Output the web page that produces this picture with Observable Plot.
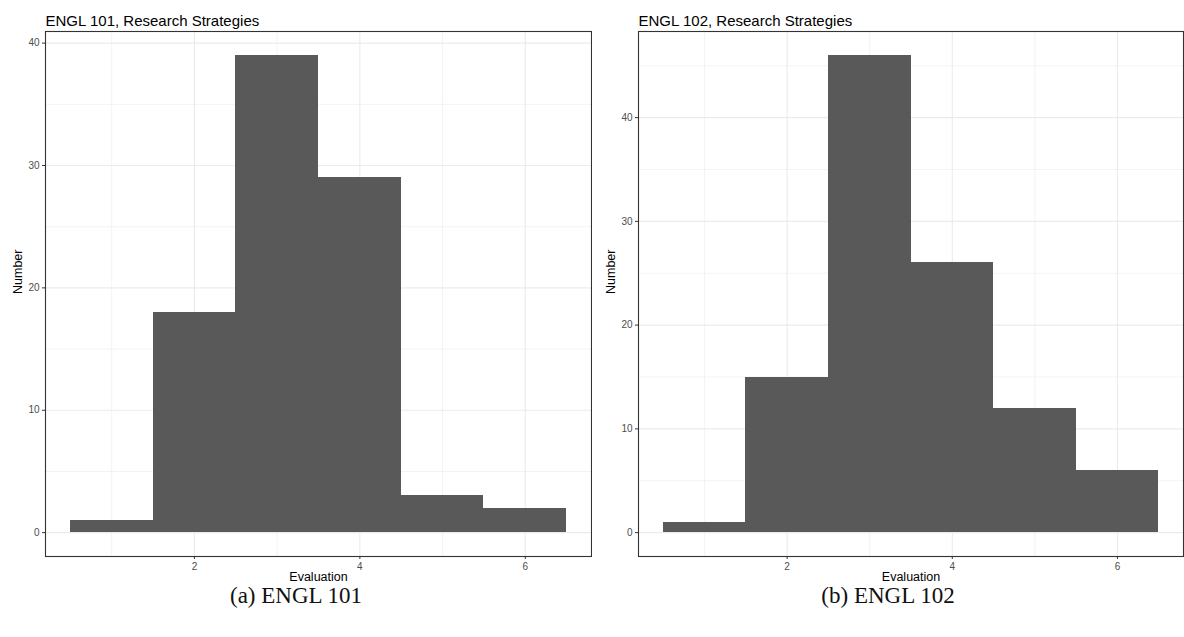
<!DOCTYPE html>
<html>
<head>
<meta charset="utf-8">
<script src="https://cdn.jsdelivr.net/npm/d3@7"></script>
<script src="https://cdn.jsdelivr.net/npm/@observablehq/plot@0.6"></script>
<style>
  html, body { margin: 0; padding: 0; background: #fff; }
  #wrap { position: relative; width: 1184px; height: 637px; overflow: hidden; }
  .panel { position: absolute; top: 0; }
  .cap { position: absolute; top: 583px; width: 592px; text-align: center;
         font-family: "Liberation Serif", "DejaVu Serif", serif; font-size: 23px; color: #111; }
</style>
</head>
<body>
<div id="wrap"></div>
<script>
// ---- data ----
const evaluations = [1, 2, 3, 4, 5, 6];
const counts101 = [1, 18, 39, 29, 3, 2];
const counts102 = [1, 15, 46, 26, 12, 6];
const titles = ["ENGL 101, Research Strategies", "ENGL 102, Research Strategies"];
const captions = ["(a) ENGL 101", "(b) ENGL 102"];
const xMajor = [2, 4, 6];
const xMinor = [1, 3, 5];
const yMajor = [0, 10, 20, 30, 40];
const yMinor = [5, 15, 25, 35, 45];
const xLabel = "Evaluation";
const yLabel = "Number";

const wrap = document.getElementById("wrap");

function panel(counts, title, caption, left, marginLeft, marginRight) {
  const data = evaluations.map((e, i) => ({e, n: counts[i]}));
  const maxN = d3.max(counts);
  const pad = maxN * 0.05;
  const yMin = yMinor.filter(v => v < maxN + pad);
  const chart = Plot.plot({
    width: 592,
    height: 590,
    marginLeft, marginRight,
    marginTop: 31,
    marginBottom: 34,
    style: {fontFamily: "'Liberation Sans', Arial, sans-serif", fontSize: "10px", background: "#fff", overflow: "visible"},
    x: {domain: [0.2, 6.8]},
    y: {domain: [-pad, maxN + pad]},
    marks: [
      Plot.gridX(xMinor, {stroke: "#EBEBEB", strokeOpacity: 1, strokeWidth: 0.6}),
      Plot.gridY(yMin, {stroke: "#EBEBEB", strokeOpacity: 1, strokeWidth: 0.6}),
      Plot.gridX(xMajor, {stroke: "#EBEBEB", strokeOpacity: 1, strokeWidth: 1.1}),
      Plot.gridY(yMajor.filter(v => v < maxN + pad), {stroke: "#EBEBEB", strokeOpacity: 1, strokeWidth: 1.1}),
      Plot.rectY(data, {x1: d => d.e - 0.5, x2: d => d.e + 0.5, y1: 0, y2: "n", fill: "#595959", shapeRendering: "crispEdges"}),
      Plot.frame({stroke: "#333333", strokeWidth: 1.1}),
      Plot.axisX(xMajor, {tickSize: 3, tickPadding: 3, stroke: "#333333", fill: "#4D4D4D", label: null, fontSize: 10}),
      Plot.axisY(yMajor.filter(v => v < maxN + pad), {tickSize: 3, tickPadding: 3, stroke: "#333333", fill: "#4D4D4D", label: null, fontSize: 10}),
      Plot.text([title], {frameAnchor: "top-left", dy: -16, textAnchor: "start", text: d => d, fontSize: 15, fill: "#000"}),
      Plot.text([xLabel], {frameAnchor: "bottom", dy: 24, text: d => d, fontSize: 12.5, fill: "#000"}),
      Plot.text([yLabel], {frameAnchor: "left", dx: -28, rotate: -90, text: d => d, fontSize: 12.5, fill: "#000"})
    ]
  });
  chart.classList.add("panel");
  chart.style.left = left + "px";
  wrap.appendChild(chart);
  const c = document.createElement("div");
  c.className = "cap";
  c.style.left = left + "px";
  c.textContent = caption;
  wrap.appendChild(c);
}

panel(counts101, titles[0], captions[0], 0, 45, 1);
panel(counts102, titles[1], captions[1], 592, 46, 1);
</script>
</body>
</html>
